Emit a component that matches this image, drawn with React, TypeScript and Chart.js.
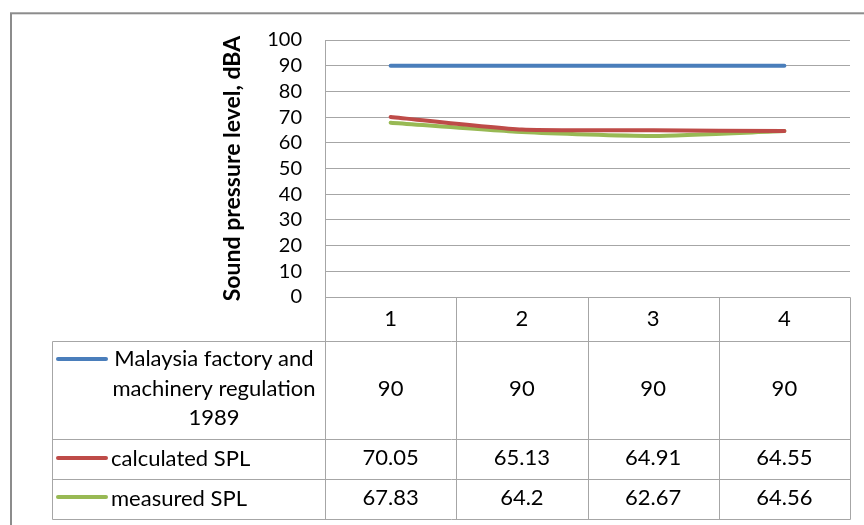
import React, { useEffect, useRef } from "react";
import { Chart, registerables } from "chart.js";

Chart.register(...registerables);

const categories = ["1", "2", "3", "4"];
const regulationLabel = ["Malaysia factory and", "machinery regulation", "1989"];
const regulation = [90, 90, 90, 90];
const calculatedLabel = "calculated SPL";
const calculated = [70.05, 65.13, 64.91, 64.55];
const measuredLabel = "measured SPL";
const measured = [67.83, 64.2, 62.67, 64.56];
const yTitle = "Sound pressure level, dBA";

const BLUE = "#4A7EBB";
const RED = "#BE4B48";
const GREEN = "#98B954";
const GRID = "#a6a6a6";
const FONT = "Lato, 'Open Sans', sans-serif";

const tablePlugin = {
  id: "excelTable",
  beforeDraw(chart: any) {
    const ctx = chart.ctx;
    ctx.save();
    ctx.fillStyle = "#ffffff";
    ctx.fillRect(0, 0, chart.width, chart.height);
    ctx.strokeStyle = "#8c8c8c";
    ctx.lineWidth = 2;
    ctx.strokeRect(11, 13.3, chart.width + 50, chart.height + 50);
    ctx.restore();
  },
  afterDraw(chart: any) {
    const ctx = chart.ctx;
    const area = chart.chartArea;
    const xs = chart.scales.x;
    const step = xs.getPixelForValue(1) - xs.getPixelForValue(0);
    const centers = categories.map((_, i) => xs.getPixelForValue(i));
    const bounds = [centers[0] - step / 2, ...centers.map((c) => c + step / 2)];
    const legendLeft = 52;
    const top = area.bottom;
    const headerH = 44;
    const rowH = [98, 40, 40];
    const rowTops = [top + headerH];
    rowH.forEach((h, i) => rowTops.push(rowTops[i] + h));
    const bottom = rowTops[rowTops.length - 1];
    const px = (v: number) => Math.round(v) + 0.5;

    ctx.save();
    ctx.strokeStyle = GRID;
    ctx.lineWidth = 1;
    ctx.beginPath();
    ctx.moveTo(px(bounds[0]), px(top));
    ctx.lineTo(px(bounds[bounds.length - 1]), px(top));
    bounds.forEach((b) => {
      ctx.moveTo(px(b), px(top));
      ctx.lineTo(px(b), px(bottom));
    });
    ctx.moveTo(px(legendLeft), px(rowTops[0]));
    ctx.lineTo(px(legendLeft), px(bottom));
    rowTops.forEach((y) => {
      ctx.moveTo(px(legendLeft), px(y));
      ctx.lineTo(px(bounds[bounds.length - 1]), px(y));
    });
    ctx.stroke();

    ctx.fillStyle = "#000000";
    ctx.font = `22px ${FONT}`;
    ctx.textBaseline = "middle";
    ctx.textAlign = "center";
    categories.forEach((c, i) => ctx.fillText(c, centers[i], top + headerH / 2));

    const rows = [
      { color: BLUE, values: regulation },
      { color: RED, values: calculated },
      { color: GREEN, values: measured },
    ];
    rows.forEach((r, ri) => {
      const mid = rowTops[ri] + rowH[ri] / 2 - 1;
      r.values.forEach((v, i) => ctx.fillText(String(v), centers[i], mid));
    });

    const keyY = [rowTops[0] + 18, rowTops[1] + 19, rowTops[2] + 18];
    ctx.lineCap = "round";
    ctx.lineWidth = 4;
    rows.forEach((r, ri) => {
      ctx.strokeStyle = r.color;
      ctx.beginPath();
      ctx.moveTo(58, keyY[ri]);
      ctx.lineTo(106, keyY[ri]);
      ctx.stroke();
    });

    ctx.textAlign = "center";
    regulationLabel.forEach((t, i) => ctx.fillText(t, 214, rowTops[0] + 18 + i * 29.5));
    ctx.textAlign = "left";
    ctx.fillText(calculatedLabel, 111, rowTops[1] + rowH[1] / 2);
    ctx.fillText(measuredLabel, 111, rowTops[2] + rowH[2] / 2);
    ctx.restore();
  },
};

export default function App() {
  const ref = useRef<HTMLCanvasElement | null>(null);
  useEffect(() => {
    if (!ref.current) return;
    const lineDs = (label: string, data: number[], color: string) => ({
      label,
      data,
      borderColor: color,
      backgroundColor: color,
      borderWidth: 4,
      pointRadius: 0,
      tension: 0.2,
      borderCapStyle: "round" as const,
      borderJoinStyle: "round" as const,
    });
    const chart = new Chart(ref.current, {
      type: "line",
      data: {
        labels: categories,
        datasets: [
          lineDs(regulationLabel.join(" "), regulation, BLUE),
          lineDs(calculatedLabel, calculated, RED),
          lineDs(measuredLabel, measured, GREEN),
        ],
      },
      options: {
        animation: false,
        responsive: false,
        layout: { padding: { left: 0, top: 40, right: 14, bottom: 228 } },
        plugins: { legend: { display: false }, tooltip: { enabled: false } },
        scales: {
          x: { type: "category", offset: true, display: false },
          y: {
            min: 0,
            max: 100,
            ticks: {
              stepSize: 10,
              autoSkip: false,
              color: "#000",
              font: { family: FONT, size: 20 },
              padding: 23,
            },
            grid: { color: GRID, drawTicks: false },
            border: { display: true, color: GRID },
            title: {
              display: true,
              text: yTitle,
              color: "#000",
              font: { family: FONT, size: 23, weight: "bold" },
              padding: { top: 219, bottom: 0 },
            },
            afterFit: (scale: any) => {
              scale.width = 325;
            },
          },
        },
      },
      plugins: [tablePlugin],
    });
    return () => chart.destroy();
  }, []);
  return (
    <div style={{ position: "fixed", left: 0, top: 0, width: 864, height: 525, background: "#fff" }}>
      <canvas ref={ref} width={864} height={525} />
    </div>
  );
}
